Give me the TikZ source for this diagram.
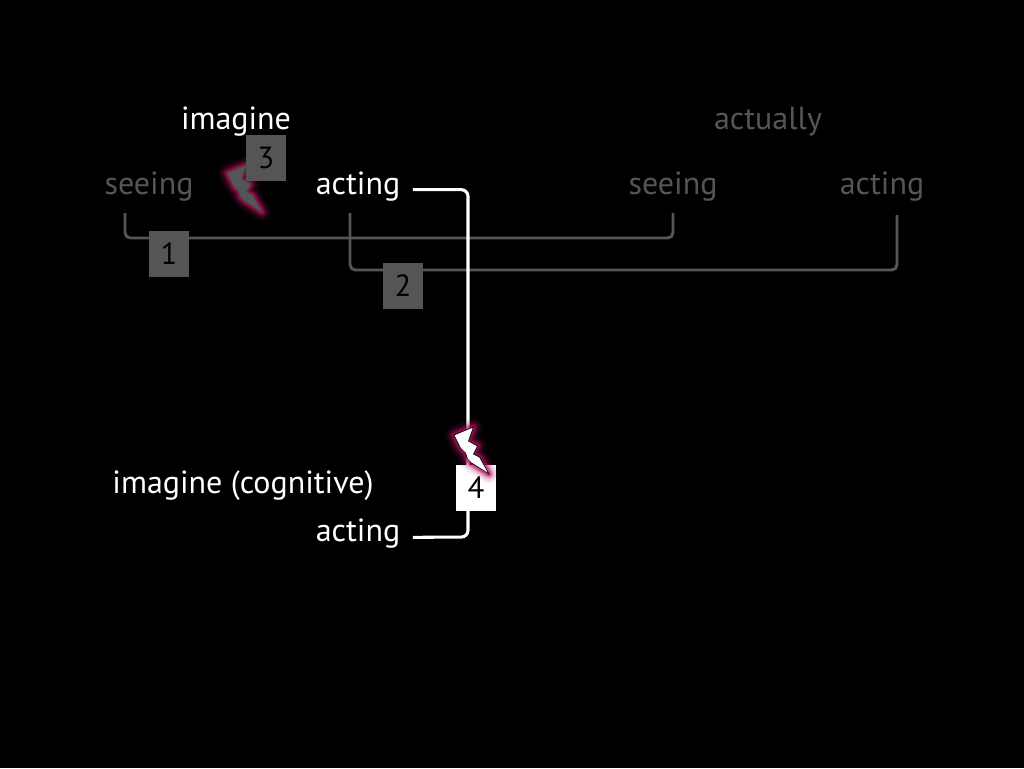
\documentclass[tikz,border=0pt]{standalone}
\usepackage{fontspec}
\setmainfont{PT Sans}
\usetikzlibrary{positioning}
\definecolor{dimgray}{HTML}{555555}
\definecolor{glowpink}{HTML}{B8125E}

\begin{document}
\begin{tikzpicture}[x=0.75pt,y=-0.75pt,
    every node/.style={font=\fontsize{24}{28}\selectfont},
    lit/.style={text=white},
    dim/.style={text=dimgray},
    numbox/.style={minimum width=30pt,minimum height=35pt,inner sep=0pt,text=black,font=\fontsize{23}{27}\selectfont},
    bracket/.style={draw=dimgray,line width=2.2pt,rounded corners=4pt},
    wire/.style={draw=white,line width=2.3pt,rounded corners=5pt},
    bolt/.pic={
        \foreach \w/\o in {14/0.07,11/0.11,8/0.18,5.5/0.3,3.5/0.45}
            \draw[glowpink,line width=\w pt,line join=round,opacity=\o]
                (-1,1) -- (18.5,-7) -- (13.5,7) -- (22.5,12) -- (18.5,20) -- (24.5,23) -- (34,40)
                -- (16.5,29) -- (12.5,25) -- (10.5,19) -- (5.5,14) -- cycle;
        \filldraw[pic actions,line width=0.5pt,line join=miter]
                (-1,1) -- (18.5,-7) -- (13.5,7) -- (22.5,12) -- (18.5,20) -- (24.5,23) -- (34,40)
                -- (16.5,29) -- (12.5,25) -- (10.5,19) -- (5.5,14) -- cycle;
    }]
\fill[black] (0,0) rectangle (1024,768);

\node[lit] (imag) at (236,122) {imagine};
\node[dim] (actu) at (768,122) {actually};
\node[dim] (seeL) at (149,187) {seeing};
\node[lit] (actTop) at (358,187) {acting};
\node[dim] (seeR) at (673,187) {seeing};
\node[dim] (actR) at (882,187) {acting};
\node[lit] (cogn) at (243,486) {imagine (cognitive)};
\node[lit] (actLow) at (358,534) {acting};

\coordinate (b1a) at (125,213);
\coordinate (b1) at (400,238);
\coordinate (b1b) at (673,213);
\coordinate (b2a) at (350,213);
\coordinate (b2) at (600,270);
\coordinate (b2b) at (897,215);
\coordinate (turn) at (468,537);

\draw[bracket] (b1a) |- (b1) -| (b1b);
\draw[bracket] (b2a) |- (b2) -| (b2b);
\draw[wire] ([xshift=6pt,yshift=-2pt]actTop.east) -| (turn) -- ([xshift=6pt,yshift=-2.5pt]actLow.east);

\pic[fill=dimgray,draw=black!70] at (228,172) {bolt};

\node[numbox,fill=dimgray] (n1) at (169,254) {1};
\node[numbox,fill=dimgray] (n2) at (403,286) {2};
\node[numbox,fill=dimgray] (n3) at (266,158) {3};
\node[numbox,fill=white] (n4) at (476,488) {4};

\pic[fill=white,draw=black] at (455,434) {bolt};
\end{tikzpicture}
\end{document}
